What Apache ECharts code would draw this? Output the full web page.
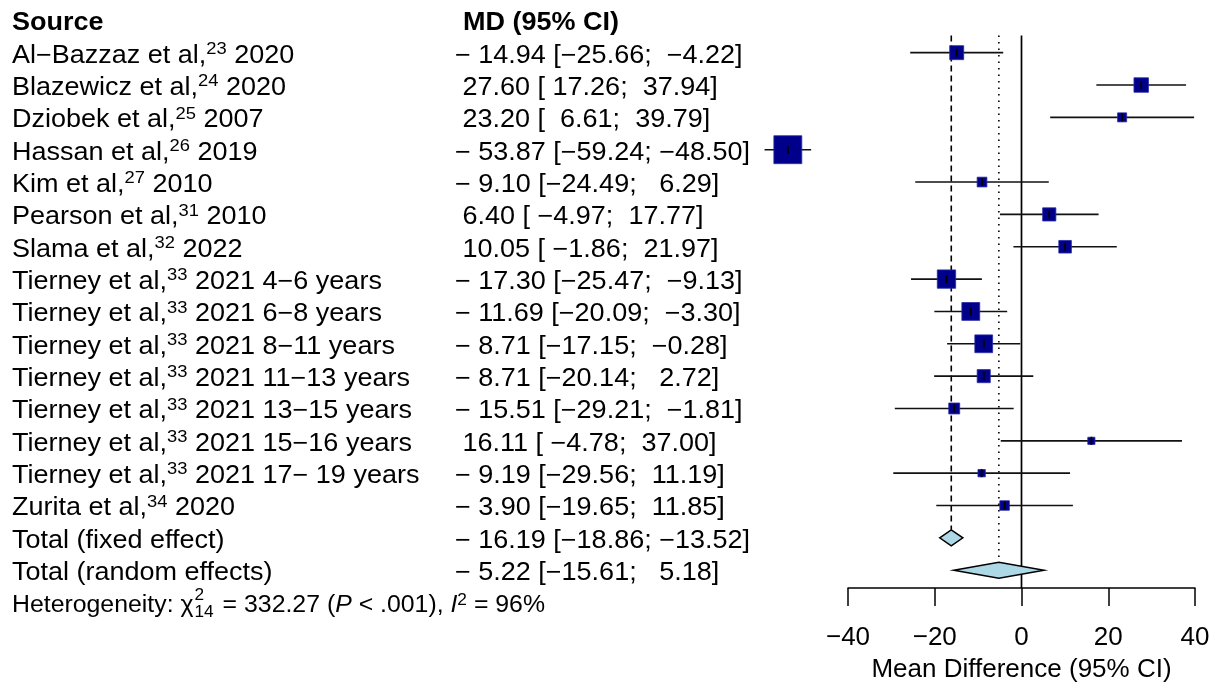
<!DOCTYPE html>
<html>
<head>
<meta charset="utf-8">
<script src="https://cdn.jsdelivr.net/npm/echarts@6/dist/echarts.min.js"></script>
<style>
  html, body { margin: 0; padding: 0; background: #fff; }
  #chart { width: 1217px; height: 688px; }
</style>
</head>
<body>
<div id="chart"></div>
<script>
// study rows
const studyNames = ['Al−Bazzaz et al,', 'Blazewicz et al,', 'Dziobek et al,', 'Hassan et al,', 'Kim et al,',
  'Pearson et al,', 'Slama et al,', 'Tierney et al,', 'Tierney et al,', 'Tierney et al,', 'Tierney et al,',
  'Tierney et al,', 'Tierney et al,', 'Tierney et al,', 'Zurita et al,'];
const studyRefs = ['23', '24', '25', '26', '27', '31', '32', '33', '33', '33', '33', '33', '33', '33', '34'];
const studyTails = [' 2020', ' 2020', ' 2007', ' 2019', ' 2010', ' 2010', ' 2022', ' 2021 4−6 years',
  ' 2021 6−8 years', ' 2021 8−11 years', ' 2021 11−13 years', ' 2021 13−15 years', ' 2021 15−16 years',
  ' 2021 17− 19 years', ' 2020'];
const studyMD = [-14.94, 27.60, 23.20, -53.87, -9.10, 6.40, 10.05, -17.30, -11.69, -8.71, -8.71, -15.51, 16.11, -9.19, -3.90];
const studyLower = [-25.66, 17.26, 6.61, -59.24, -24.49, -4.97, -1.86, -25.47, -20.09, -17.15, -20.14, -29.21, -4.78, -29.56, -19.65];
const studyUpper = [-4.22, 37.94, 39.79, -48.50, 6.29, 17.77, 21.97, -9.13, -3.30, -0.28, 2.72, -1.81, 37.00, 11.19, 11.85];

// pooled rows
const totalNames = ['Total (fixed effect)', 'Total (random effects)'];
const totalMD = [-16.19, -5.22];
const totalLower = [-18.86, -15.61];
const totalUpper = [-13.52, 5.18];

// heterogeneity
const hetChi2 = '332.27';
const hetDf = '14';
const hetP = '< .001';
const hetI2 = '96%';

const xTicks = [-40, -20, 0, 20, 40];

const FONT = '"Liberation Sans", Arial, sans-serif';
const SX = 1.08;          // the figure is a little stretched sideways
const BOX_K = 300;        // box side = BOX_K / CI width (inverse-variance)
const TEXT_DY = 3;
const MINUS = '−';

function num(v) {
  return v < 0 ? MINUS + Math.abs(v).toFixed(2) : v.toFixed(2);
}
function pad6(s) {
  while (s.length < 6) s = ' ' + s;
  return s;
}
function mdText(md, lo, hi) {
  const est = md < 0 ? MINUS + ' ' + Math.abs(md).toFixed(2) : ' ' + md.toFixed(2);
  return est + ' [' + pad6(num(lo)) + '; ' + pad6(num(hi)) + ']';
}

const nStudy = studyMD.length;
const rowFixed = nStudy + 1, rowRandom = nStudy + 2, rowHet = nStudy + 3;

let tableData = [[0, 0]];
for (let i = 0; i < nStudy; i++) tableData.push([0, i + 1]);
tableData.push([0, rowFixed], [0, rowRandom], [0, rowHet]);

function measure(text, font) {
  const ctx = document.createElement('canvas').getContext('2d');
  ctx.font = font;
  return ctx.measureText(text).width;
}

function textEl(x, y, text, opts) {
  return {
    type: 'text', x: x, y: y, scaleX: SX,
    style: Object.assign({
      text: text, fontFamily: FONT, fontSize: 25, lineHeight: 30, fill: '#000',
      align: 'left', verticalAlign: 'middle',
      rich: { sup: { fontSize: 17, lineHeight: 17, verticalAlign: 'top', fontFamily: FONT, fill: '#000' } }
    }, opts || {})
  };
}

function renderTable(params, api) {
  const row = api.value(1);
  const y = api.coord([0, row])[1] + TEXT_DY;
  if (row === 0) {
    return { type: 'group', children: [
      textEl(12, y, 'Source', { fontWeight: 'bold' }),
      textEl(463, y, 'MD (95% CI)', { fontWeight: 'bold' })
    ] };
  }
  if (row <= nStudy) {
    const i = row - 1;
    return { type: 'group', children: [
      textEl(12, y, studyNames[i] + '{sup|' + studyRefs[i] + '}' + studyTails[i]),
      textEl(455, y, mdText(studyMD[i], studyLower[i], studyUpper[i]))
    ] };
  }
  if (row === rowFixed || row === rowRandom) {
    const k = row - rowFixed;
    return { type: 'group', children: [
      textEl(12, y, totalNames[k]),
      textEl(455, y, mdText(totalMD[k], totalLower[k], totalUpper[k]))
    ] };
  }
  // heterogeneity line
  const f = '23px ' + FONT;
  const head = 'Heterogeneity: χ';
  const x1 = 12 + measure(head, f) * SX + 1;
  const x2 = x1 + measure(hetDf, '16px ' + FONT) * SX + 2;
  const hs = { fontSize: 23, lineHeight: 26 };
  return { type: 'group', children: [
    textEl(12, y, head, hs),
    textEl(x1, y - 10, '2', { fontSize: 16, lineHeight: 16 }),
    textEl(x1, y + 7, hetDf, { fontSize: 16, lineHeight: 16 }),
    textEl(x2, y, ' = ' + hetChi2 + ' ({it|P} ' + hetP + '), {it|I}{sup|2} = ' + hetI2, Object.assign({}, hs, {
      rich: {
        it: { fontStyle: 'italic', fontSize: 23, fontFamily: FONT, fill: '#000' },
        sup: { fontSize: 16, lineHeight: 16, verticalAlign: 'top', fontFamily: FONT, fill: '#000' }
      }
    }))
  ] };
}

function renderStudy(params, api) {
  const md = api.value(0), row = api.value(1), lo = api.value(2), hi = api.value(3);
  const c = api.coord([md, row]);
  const l = api.coord([lo, row]);
  const h = api.coord([hi, row]);
  const s = BOX_K / (hi - lo);
  return { type: 'group', children: [
    { type: 'line', shape: { x1: l[0], y1: c[1], x2: h[0], y2: c[1] }, style: { stroke: '#111', lineWidth: 1.6 } },
    { type: 'rect', shape: { x: c[0] - s / 2, y: c[1] - s / 2, width: s, height: s },
      style: { fill: '#00008b', stroke: '#2a2aa8', lineWidth: 0.8 } },
    { type: 'line', shape: { x1: c[0], y1: c[1] - 4, x2: c[0], y2: c[1] + 4 }, style: { stroke: '#000', lineWidth: 1.8 } }
  ] };
}

const DIAMOND_H = 16;
function renderTotal(params, api) {
  const md = api.value(0), row = api.value(1), lo = api.value(2), hi = api.value(3);
  const c = api.coord([md, row]);
  const l = api.coord([lo, row]);
  const h = api.coord([hi, row]);
  return { type: 'polygon',
    shape: { points: [[l[0], c[1]], [c[0], c[1] - DIAMOND_H / 2], [h[0], c[1]], [c[0], c[1] + DIAMOND_H / 2]] },
    style: { fill: '#add8e6', stroke: '#000', lineWidth: 1.5 } };
}

function renderRefLines(params, api) {
  const top = api.coord([0, 0.5])[1] - 1;
  const axisY = api.coord([0, 17.55])[1];
  const z = api.coord([0, 0.5])[0];
  const fx = api.coord([totalMD[0], rowFixed]);
  const rx = api.coord([totalMD[1], rowRandom]);
  return { type: 'group', children: [
    { type: 'line', shape: { x1: z, y1: top, x2: z, y2: axisY }, style: { stroke: '#000', lineWidth: 1.7 } },
    { type: 'line', shape: { x1: fx[0], y1: top, x2: fx[0], y2: fx[1] - DIAMOND_H / 2 },
      style: { stroke: '#000', lineWidth: 1.6, lineDash: [6, 4] } },
    { type: 'line', shape: { x1: rx[0], y1: top, x2: rx[0], y2: rx[1] - DIAMOND_H / 2 },
      style: { stroke: '#000', lineWidth: 1.6, lineDash: [1.5, 5] } }
  ] };
}

const chart = echarts.init(document.getElementById('chart'), null, { renderer: 'canvas' });
chart.setOption({
  backgroundColor: '#fff',
  animation: false,
  grid: { left: 848, right: 22, top: 36.5, bottom: 99 },
  xAxis: {
    type: 'value', min: xTicks[0], max: xTicks[xTicks.length - 1], interval: 20,
    axisLine: { show: true, lineStyle: { color: '#000', width: 1.5 } },
    axisTick: { show: true, length: 18, lineStyle: { color: '#000', width: 1.5 } },
    axisLabel: { color: '#000', fontSize: 26, fontFamily: FONT, margin: 37,
      formatter: v => (v < 0 ? MINUS + Math.abs(v) : String(v)) },
    splitLine: { show: false },
    name: 'Mean Difference (95% CI)', nameLocation: 'middle', nameGap: 69,
    nameTextStyle: { color: '#000', fontSize: 26, fontFamily: FONT }
  },
  yAxis: { type: 'value', inverse: true, min: 0.5, max: 17.55, show: false },
  series: [
    { type: 'custom', name: 'refs', clip: false, z: 1, data: [[0, 1]], renderItem: renderRefLines },
    { type: 'custom', name: 'studies', clip: false, z: 3,
      data: studyMD.map((m, i) => [m, i + 1, studyLower[i], studyUpper[i]]), renderItem: renderStudy },
    { type: 'custom', name: 'totals', clip: false, z: 3,
      data: totalMD.map((m, i) => [m, rowFixed + i, totalLower[i], totalUpper[i]]), renderItem: renderTotal },
    { type: 'custom', name: 'table', clip: false, z: 4, data: tableData, renderItem: renderTable }
  ]
});
</script>
</body>
</html>
